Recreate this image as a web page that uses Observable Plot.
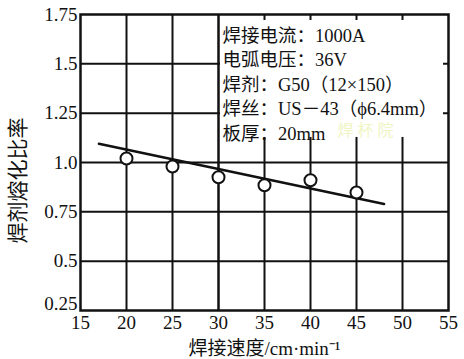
<!DOCTYPE html>
<html><head><meta charset="utf-8">
<script src="https://cdn.jsdelivr.net/npm/d3@7"></script>
<script src="https://cdn.jsdelivr.net/npm/@observablehq/plot@0.6"></script>
<style>
body{margin:0;background:#fff;}
</style></head>
<body><div id="chart"></div>
<script>
const speeds = [20, 25, 30, 35, 40, 45];
const ratios = [1.02, 0.98, 0.925, 0.885, 0.91, 0.848];
const fitX = [17, 48];
const fitY = [1.095, 0.79];
const xTicks = [15, 20, 25, 30, 35, 40, 45, 50, 55];
const yTicks = [0.25, 0.5, 0.75, 1.0, 1.25, 1.5, 1.75];
const yTickLabels = ["0.25", "0.5", "0.75", "1.0", "1.25", "1.5", "1.75"];
const notes = ["焊接电流：1000A", "电弧电压：36V", "焊剂：G50（12×150）", "焊丝：US－43（ϕ6.4mm）", "板厚：20mm"];
const xLabel = "焊接速度/cm·min⁻¹";
const yLabel = "焊剂熔化比率";
const watermark = "焊 杯 院";

const pts = speeds.map((s, i) => ({s, r: ratios[i]}));
const fit = fitX.map((x, i) => ({x, y: fitY[i]}));
const innerX = xTicks.slice(1, -1);
const innerY = yTicks.slice(1, -1);
const yFmt = (d) => yTickLabels[yTicks.indexOf(d)];

const chart = Plot.plot({
  width: 464, height: 359,
  marginLeft: 80, marginRight: 16, marginTop: 14, marginBottom: 49,
  style: {fontSize: "19px", fontFamily: "'Liberation Serif', 'Noto Sans CJK SC', serif", color: "#111", background: "#fff"},
  x: {domain: [15, 55]},
  y: {domain: [0.25, 1.75]},
  marks: [
    Plot.ruleX(innerX, {stroke: "#111", strokeWidth: 2}),
    Plot.ruleY(innerY, {stroke: "#111", strokeWidth: 2}),
    Plot.rect([0], {x1: 30, x2: 55, y1: 1.127, y2: 1.75, fill: "white", insetLeft: 2, insetTop: 6, insetRight: 5}),
    Plot.ruleX([30], {stroke: "#111", strokeWidth: 2}),
    Plot.frame({stroke: "#111", strokeWidth: 2.5}),
    Plot.axisX(xTicks, {tickSize: 0, tickPadding: 5, label: xLabel, labelAnchor: "center", labelArrow: "none", labelOffset: 44}),
    Plot.axisY(yTicks.slice(1), {tickSize: 0, tickPadding: 3, tickFormat: yFmt, label: null}),
    Plot.axisY([0.25], {tickSize: 0, tickPadding: 3, tickFormat: yFmt, label: null, dy: -7}),
    Plot.line(fit, {x: "x", y: "y", stroke: "#111", strokeWidth: 2.5}),
    Plot.dot(pts, {x: "s", y: "r", r: 6, fill: "white", stroke: "#111", strokeWidth: 2}),
    Plot.text([notes.join("\n")], {frameAnchor: "top-left", dx: 142, dy: 10, textAnchor: "start", lineAnchor: "top", lineHeight: 1.32, fontSize: 18.5, fill: "#111"}),
    Plot.text([watermark], {frameAnchor: "top-left", dx: 285, dy: 110, textAnchor: "middle", lineAnchor: "top", fontSize: 16, fill: "#f0f5c4"}),
    Plot.text([yLabel], {frameAnchor: "left", dx: -62, dy: 18, rotate: -90, textAnchor: "middle", fontSize: 21, fill: "#111"})
  ]
});
document.getElementById("chart").appendChild(chart);
</script></body></html>
